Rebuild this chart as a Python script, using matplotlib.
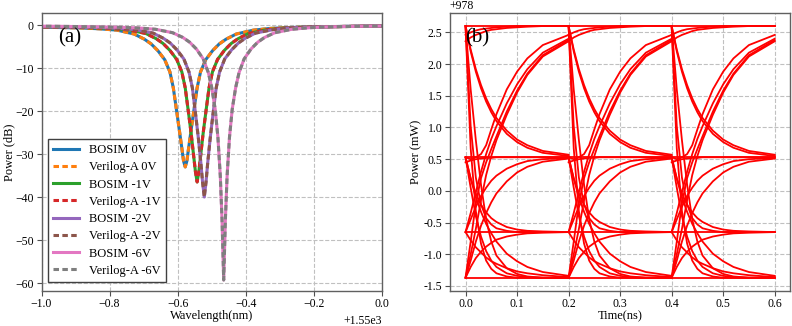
import numpy as np
import matplotlib
matplotlib.use('Agg')
import matplotlib.pyplot as plt
from matplotlib.ticker import ScalarFormatter, MultipleLocator

plt.rcParams['font.family'] = ['Liberation Serif', 'DejaVu Serif']

# ---- (a) transmission spectra ----
lambda0 = 1550.0
biases = ['0V', '-1V', '-2V', '-6V']
dip_pos = [-0.578, -0.543, -0.522, -0.465]      # resonance offset from 1550 nm
offsets = [-0.6, -0.5, -0.4, -0.3, -0.25, -0.2, -0.15, -0.12, -0.1, -0.08, -0.06,
           -0.045, -0.035, -0.025, -0.017, -0.01, -0.005, 0, 0.005, 0.01, 0.017,
           0.025, 0.035, 0.045, 0.06, 0.08, 0.1, 0.12, 0.15, 0.2, 0.25, 0.3, 0.4,
           0.5, 0.6]
db_0v = [-0.3, -0.4, -0.45, -0.6, -0.8, -1.1, -2.0, -3.2, -4.3, -5.9, -8.0, -10.8,
         -14.5, -20.0, -24.5, -28.5, -31.5, -32.9, -31.5, -28.5, -24.5, -20.0, -14.5,
         -10.8, -8.0, -5.9, -4.3, -3.2, -2.0, -1.1, -0.7, -0.5, -0.3, -0.2, -0.1]
db_1v = [-0.3, -0.35, -0.4, -0.55, -0.75, -1.05, -1.9, -3.1, -4.2, -5.8, -7.9, -10.8,
         -14.5, -20.5, -25.5, -30.5, -34.0, -36.4, -34.0, -30.5, -25.5, -20.5, -14.5,
         -10.8, -7.9, -5.8, -4.2, -3.1, -1.9, -1.05, -0.65, -0.45, -0.3, -0.2, -0.1]
db_2v = [-0.25, -0.3, -0.4, -0.5, -0.7, -1.0, -1.8, -3.0, -4.1, -5.7, -7.8, -10.8,
         -14.5, -21.0, -26.5, -32.0, -36.5, -39.9, -36.5, -32.0, -26.5, -21.0, -14.5,
         -10.8, -7.8, -5.7, -4.1, -3.0, -1.8, -1.0, -0.6, -0.4, -0.25, -0.15, -0.1]
db_6v = [-0.15, -0.2, -0.3, -0.45, -0.6, -0.9, -1.7, -2.8, -3.9, -5.5, -7.8, -11.0,
         -14.5, -19.5, -26.0, -35.0, -45.0, -59.2, -45.0, -35.0, -26.0, -19.5, -14.5,
         -11.0, -7.8, -5.5, -3.9, -2.8, -1.7, -0.9, -0.55, -0.35, -0.2, -0.1, -0.05]
bosim_db = [db_0v, db_1v, db_2v, db_6v]
veriloga_db = [db_0v, db_1v, db_2v, db_6v]   # the two models overlap

# ---- (b) PAM4 eye ----
p_base = 978
t_ui = 0.2
levels = [2.60, 0.53, -0.65, -1.37]
eye_t = [0, 0.01, 0.02, 0.03, 0.04, 0.05, 0.06, 0.08, 0.10, 0.12, 0.15, 0.20]
eye_traces = [
    # falls from the top level
    [2.60, 2.23, 1.92, 1.67, 1.46, 1.29, 1.15, 0.95, 0.81, 0.72, 0.63, 0.57],
    [2.60, 2.20, 1.88, 1.62, 1.41, 1.24, 1.10, 0.90, 0.77, 0.68, 0.60, 0.55],
    [2.60, 1.02, 0.21, -0.21, -0.43, -0.53, -0.59, -0.63, -0.65, -0.65, -0.65, -0.65],
    [2.60, 0.67, -0.32, -0.83, -1.10, -1.23, -1.30, -1.35, -1.37, -1.37, -1.37, -1.37],
    [2.60, 1.60, 0.80, 0.10, -0.45, -0.80, -1.02, -1.22, -1.31, -1.35, -1.37, -1.37],
    # rises to the top level
    [0.53, 0.50, 0.53, 0.58, 0.72, 0.97, 1.21, 1.60, 1.88, 2.09, 2.30, 2.46],
    [-0.65, -0.35, -0.02, 0.30, 0.58, 0.82, 1.02, 1.38, 1.68, 1.92, 2.18, 2.40],
    [-1.37, -1.00, -0.60, -0.15, 0.25, 0.55, 0.80, 1.20, 1.55, 1.83, 2.12, 2.36],
    [-1.37, -0.80, -0.20, 0.20, 0.45, 0.66, 0.86, 1.25, 1.58, 1.85, 2.14, 2.38],
    # transitions between the lower levels
    [0.53, 0.20, -0.04, -0.22, -0.34, -0.43, -0.49, -0.57, -0.61, -0.63, -0.64, -0.65],
    [0.53, 0.19, -0.10, -0.33, -0.52, -0.67, -0.80, -0.99, -1.11, -1.20, -1.28, -1.34],
    [-0.65, -0.78, -0.89, -0.97, -1.05, -1.11, -1.15, -1.22, -1.27, -1.30, -1.33, -1.36],
    [-0.65, -0.45, -0.25, -0.08, 0.05, 0.16, 0.24, 0.35, 0.42, 0.47, 0.50, 0.52],
    [-1.37, -1.10, -0.80, -0.55, -0.35, -0.18, -0.04, 0.15, 0.29, 0.38, 0.46, 0.51],
    [-1.37, -1.20, -1.06, -0.96, -0.88, -0.82, -0.77, -0.72, -0.69, -0.67, -0.66, -0.65],
    [0.53, 0.05, -0.40, -0.72, -0.95, -1.10, -1.20, -1.30, -1.34, -1.36, -1.37, -1.37],
    # settling tails carried over from the previous symbol
    [2.36, 2.42, 2.46, 2.49, 2.52, 2.54, 2.55, 2.57, 2.58, 2.59, 2.60, 2.60],
    [2.46, 2.50, 2.53, 2.55, 2.56, 2.57, 2.58, 2.59, 2.60, 2.60, 2.60, 2.60],
    [0.45, 0.48, 0.50, 0.51, 0.52, 0.52, 0.53, 0.53, 0.53, 0.53, 0.53, 0.53],
]


class EyeFormatter(ScalarFormatter):
    fix_minus = staticmethod(lambda s: s)

    def get_offset(self):
        return '+%g' % self.offset if self.offset else ''


fig = plt.figure(figsize=(7.92, 3.26), dpi=100)
ax1 = fig.add_axes([0.0524, 0.108, 0.430, 0.851])
ax2 = fig.add_axes([0.568, 0.108, 0.429, 0.851])

colors = plt.rcParams['axes.prop_cycle'].by_key()['color']
for i, b in enumerate(biases):
    x = lambda0 + dip_pos[i] + np.array(offsets)
    ax1.plot(x, bosim_db[i], color=colors[2 * i], lw=2.2, label='BOSIM ' + b)
    ax1.plot(x, veriloga_db[i], color=colors[2 * i + 1], lw=2.2,
             ls=(0, (1.8, 1.1)), label='Verilog-A ' + b)

ax1.set_xlim(1549.0, 1550.0)
ax1.set_ylim(-61.7, 2.8)
ax1.xaxis.set_major_locator(MultipleLocator(0.2))
ax1.yaxis.set_major_locator(MultipleLocator(10))
fmt = ScalarFormatter()
fmt.set_useOffset(1550.0)
ax1.xaxis.set_major_formatter(fmt)
ax1.set_xlabel('Wavelength(nm)', fontsize=9, labelpad=0)
ax1.set_ylabel('Power (dB)', fontsize=9, labelpad=0)
ax1.text(0.05, 0.945, '(a)', transform=ax1.transAxes, fontsize=15, va='top')
leg = ax1.legend(loc='lower left', bbox_to_anchor=(0.0, 0.01), fontsize=9,
                 fancybox=False, edgecolor='#404040', framealpha=1,
                 handlelength=2.1, labelspacing=0.42, borderpad=0.4)
leg.get_frame().set_linewidth(1.0)

for k in range(3):
    for tr in eye_traces:
        ax2.plot(np.array(eye_t) + k * t_ui, p_base + np.array(tr), color='red', lw=1.3)
for lv in levels:
    ax2.plot([0, 3 * t_ui], [p_base + lv, p_base + lv], color='red', lw=1.3)

ax2.set_xlim(-0.0304, 0.629)
ax2.set_ylim(p_base - 1.576, p_base + 2.80)
ax2.xaxis.set_major_locator(MultipleLocator(0.1))
ax2.yaxis.set_major_locator(MultipleLocator(0.5))
yfmt = EyeFormatter()
yfmt.set_useOffset(p_base)
ax2.yaxis.set_major_formatter(yfmt)
ax2.set_xlabel('Time(ns)', fontsize=9, labelpad=0)
ax2.set_ylabel('Power (mW)', fontsize=9, labelpad=1)
ax2.text(0.045, 0.945, '(b)', transform=ax2.transAxes, fontsize=15, va='top')

for ax in (ax1, ax2):
    ax.grid(True, ls='--', color='#c0c0c0', lw=0.8)
    ax.set_axisbelow(True)
    ax.tick_params(labelsize=8.5, length=3.5, pad=2, color='#505050')
    for s in ax.spines.values():
        s.set_color('#606060')
        s.set_linewidth(1.0)
    ax.yaxis.get_offset_text().set_fontsize(8.5)
    ax.xaxis.get_offset_text().set_fontsize(8.5)

fig.savefig('out.png', dpi=100)
